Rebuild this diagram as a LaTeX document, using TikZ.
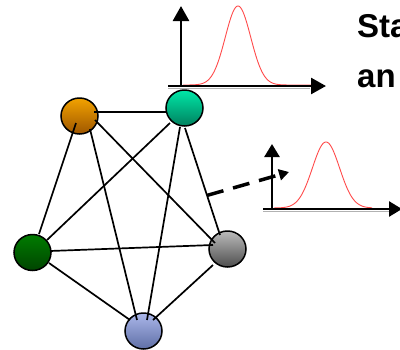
\documentclass[tikz,border=0pt]{standalone}
\usepackage{fontspec}
\setmainfont{Liberation Sans}
\usetikzlibrary{shapes.geometric,arrows.meta,calc}
\definecolor{orT}{HTML}{F2A200}
\definecolor{orB}{HTML}{9E5600}
\definecolor{teT}{HTML}{00E8A8}
\definecolor{teB}{HTML}{00805E}
\definecolor{grT}{HTML}{007C00}
\definecolor{grB}{HTML}{004400}
\definecolor{gyT}{HTML}{BBBBBB}
\definecolor{gyB}{HTML}{4E4E4E}
\definecolor{blT}{HTML}{ABB7EA}
\definecolor{blB}{HTML}{5F6FA6}
\definecolor{curvered}{HTML}{FF4A4A}
\begin{document}
\begin{tikzpicture}[x=1pt,y=-1pt,
  vert/.style={ellipse,draw=black,line width=1.5pt,minimum width=37pt,minimum height=36pt,inner sep=0pt},
  edge/.style={line width=1.7pt,black},
  axis/.style={line width=2.6pt,black,-{Triangle[length=15pt,width=16pt]}},
  saxis/.style={line width=2.6pt,black,-{Triangle[length=13pt,width=15pt]}},
  shadowline/.style={line width=1.5pt,black!30},
  gauss/.style={line width=0.9pt,curvered},
  dasharrow/.style={line width=3.5pt,black,dash pattern=on 17pt off 10pt,-{Triangle[length=10pt,width=11pt]}},
  headtxt/.style={anchor=base west,inner sep=0pt,font=\fontsize{33pt}{38pt}\selectfont\bfseries}
]
\useasboundingbox (0,0) rectangle (400,349);
\clip (0,0) rectangle (400,349);

% top plot
\coordinate (a0) at (181,86);
\coordinate (ay) at (181,6);
\coordinate (ax0) at (168,86);
\coordinate (ax) at (326,86);
\draw[shadowline] (168,88.5) -- (310,88.5);
\draw[gauss] plot[domain=183:312,samples=150] (\x,{85-79*exp(-((\x-238)^2)/322)});
\draw[axis] (a0) -- (ay);
\draw[axis] (ax0) -- (ax);

% bottom plot
\coordinate (b0) at (272,209);
\coordinate (by) at (272,144);
\coordinate (bx0) at (263,209);
\coordinate (bx) at (402,209);
\draw[shadowline] (263,211.5) -- (395,211.5);
\draw[gauss] plot[domain=274:372,samples=150] (\x,{208-66*exp(-((\x-326)^2)/370)});
\draw[saxis] (b0) -- (by);
\draw[saxis] (bx0) -- (bx);

% text
\node[headtxt] (t1) at (357,37) {Sta};
\node[headtxt] (t2) at (357,87) {an};

% vertices
\node[vert,top color=orT,bottom color=orB] (o) at (79.5,116) {};
\node[vert,top color=teT,bottom color=teB] (t) at (184.5,108) {};
\node[vert,top color=grT,bottom color=grB] (g) at (32.5,252.5) {};
\node[vert,top color=gyT,bottom color=gyB] (r) at (227.5,249) {};
\node[vert,top color=blT,bottom color=blB] (b) at (143.5,331) {};

% edges
\draw[edge] ($(o)+(14.5,-4)$) -- ($(t)+(-17.5,4)$);
\draw[edge] ($(o)+(-3.5,7)$) -- ($(g)+(6.5,-18.5)$);
\draw[edge] ($(o)+(10.5,13)$) -- ($(b)+(-6.5,-11)$);
\draw[edge] ($(o)+(15.5,4)$) -- ($(r)+(-12.5,-6)$);
\draw[edge] ($(t)+(-14.5,15)$) -- ($(g)+(14.5,-12.5)$);
\draw[edge] ($(t)+(-4.5,19)$) -- ($(b)+(3.5,-11)$);
\coordinate (tr1) at ($(t)+(0.5,20)$);
\coordinate (tr2) at ($(r)+(-7.5,-14)$);
\draw[edge] (tr1) -- (tr2);
\draw[edge] ($(g)+(17.5,-1.5)$) -- ($(r)+(-14.5,-4)$);
\draw[edge] ($(g)+(16.5,10.5)$) -- ($(b)+(-13.5,-11)$);
\draw[edge] ($(r)+(-14.5,16)$) -- ($(b)+(9.5,-11)$);

% dashed arrow
\coordinate (ds) at ($(tr1)!0.63!(tr2)$);
\coordinate (de) at (289,172);
\draw[dasharrow] (ds) -- (de);
\end{tikzpicture}
\end{document}
